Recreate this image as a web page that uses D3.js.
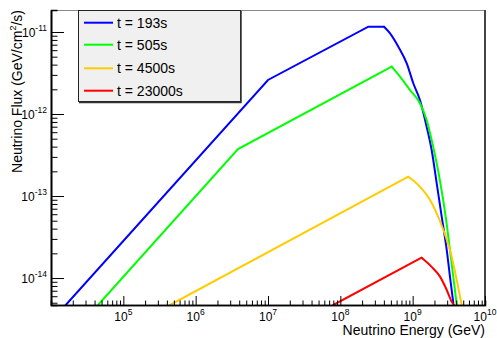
<!DOCTYPE html>
<html><head><meta charset="utf-8">
<script src="https://cdn.jsdelivr.net/npm/d3@7"></script>
<style>
html,body{margin:0;padding:0;background:#fff;}
svg{display:block;font-family:"Liberation Sans",Arial,Helvetica,sans-serif;}
</style></head><body>
<svg id="chart" width="497" height="338"></svg>
<script>
// Neutrino flux (E^2 dN/dE) versus neutrino energy at four times after the burst
const seriesNames = ["t = 193s", "t = 505s", "t = 4500s", "t = 23000s"];

const energy193 = [1.6e4, 1.0e7, 2.44e8, 4.02e8, 4.87e8, 6.34e8, 8.28e8, 1.02e9, 1.26e9, 1.56e9, 1.83e9, 2.15e9, 2.52e9, 2.96e9, 3.36e9, 3.65e9];
const flux193   = [4.69e-15, 2.6e-12, 1.16e-11, 1.16e-11, 9.64e-12, 6.62e-12, 4.15e-12, 2.37e-12, 1.48e-12, 7.0e-13, 3.64e-13, 1.43e-13, 5.6e-14, 2.19e-14, 8.7e-15, 4.95e-15];

const energy505 = [4.47e4, 3.85e6, 5.13e8, 6.68e8, 9.19e8, 1.26e9, 1.56e9, 1.83e9, 2.15e9, 2.39e9, 2.86e9, 3.28e9, 3.73e9, 4.07e9];
const flux505   = [4.69e-15, 3.74e-13, 3.78e-12, 2.85e-12, 1.96e-12, 1.35e-12, 8.45e-13, 4.82e-13, 2.5e-13, 1.52e-13, 5.6e-14, 2.19e-14, 8.7e-15, 4.69e-15];

const energy4500 = [4.42e5, 8.71e8, 1.26e9, 1.74e9, 2.15e9, 2.66e9, 3.28e9, 4.06e9, 4.76e9];
const flux4500   = [4.69e-15, 1.72e-13, 1.30e-13, 8.93e-14, 6.15e-14, 3.85e-14, 2.19e-14, 9.5e-15, 4.69e-15];

const energy23000 = [8.0e7, 1.33e9, 1.83e9, 2.39e9, 2.96e9, 3.47e9, 3.73e9];
const flux23000   = [4.69e-15, 1.77e-14, 1.37e-14, 1.04e-14, 7.14e-15, 5.14e-15, 4.69e-15];

// index of the point where the power law turns over into the cutoff
const peakIndex = [3, 2, 1, 1];

const xMajorExponents = [5, 6, 7, 8, 9, 10];
const yMajorExponents = [-14, -13, -12, -11];

const xTitle = "Neutrino Energy (GeV)";

// ---- styling ----
const lineColors = ["#0000ff", "#00ff00", "#ffcc00", "#ff0000"];
const frame = {left: 51, right: 485, top: 10, bottom: 305};

const svg = d3.select("#chart");

const x = d3.scaleLog().domain([1e4, 1e10]).range([frame.left, frame.right]);
const y = d3.scaleLog().domain([4.69e-15, 1.854e-11]).range([frame.bottom, frame.top]);

const series = [
  {name: seriesNames[0], e: energy193, f: flux193},
  {name: seriesNames[1], e: energy505, f: flux505},
  {name: seriesNames[2], e: energy4500, f: flux4500},
  {name: seriesNames[3], e: energy23000, f: flux23000}
].map((s, i) => ({...s, pts: s.e.map((v, k) => [v, s.f[k]]), peak: peakIndex[i], color: lineColors[i]}));

svg.append("defs").append("clipPath").attr("id", "plotClip")
  .append("rect")
  .attr("x", frame.left).attr("y", frame.top)
  .attr("width", frame.right - frame.left).attr("height", frame.bottom - frame.top);

// frame edges (top and right)
svg.append("line").attr("x1", frame.left).attr("x2", frame.right)
  .attr("y1", frame.top + 0.5).attr("y2", frame.top + 0.5)
  .attr("stroke", "#888").attr("stroke-width", 1);
svg.append("line").attr("x1", frame.right).attr("x2", frame.right)
  .attr("y1", frame.top).attr("y2", frame.bottom)
  .attr("stroke", "#444").attr("stroke-width", 2);

// curves: straight power-law segments, smooth exponential cutoff
const straight = d3.line().x(d => x(d[0])).y(d => y(d[1]));
const smooth = d3.line().x(d => x(d[0])).y(d => y(d[1])).curve(d3.curveMonotoneX);
const plot = svg.append("g").attr("clip-path", "url(#plotClip)");
series.forEach(s => {
  plot.append("path")
    .attr("d", straight(s.pts.slice(0, s.peak + 1)))
    .attr("fill", "none").attr("stroke", s.color).attr("stroke-width", 2)
    .attr("stroke-linejoin", "miter").attr("stroke-linecap", "round");
  plot.append("path")
    .attr("d", smooth(s.pts.slice(s.peak)))
    .attr("fill", "none").attr("stroke", s.color).attr("stroke-width", 2)
    .attr("stroke-linecap", "round");
});

// axes: major and minor ticks drawn inward
const isPow10 = v => Math.abs(Math.log10(v) - Math.round(Math.log10(v))) < 1e-9;
const xMinor = x.ticks(30).filter(v => !isPow10(v));
const yMinor = y.ticks(30).filter(v => !isPow10(v));
const xMajor = [1e4].concat(xMajorExponents.map(e => Math.pow(10, e)));
const yMajor = yMajorExponents.map(e => Math.pow(10, e));

const xAxisMinor = d3.axisBottom(x).tickValues(xMinor).tickSize(-4.5).tickFormat("");
const xAxisMajor = d3.axisBottom(x).tickValues(xMajor).tickSize(-9).tickFormat("").tickSizeOuter(0);
const yAxisMinor = d3.axisLeft(y).tickValues(yMinor).tickSize(-6.5).tickFormat("");
const yAxisMajor = d3.axisLeft(y).tickValues(yMajor).tickSize(-13).tickFormat("").tickSizeOuter(0);

function styleAxis(g) {
  g.selectAll("path").attr("stroke", "#000").attr("stroke-width", 1.6);
  g.selectAll("line").attr("stroke", "#000").attr("stroke-width", 1);
}

svg.append("g").attr("transform", `translate(0,${frame.bottom})`).call(xAxisMinor).call(styleAxis);
svg.append("g").attr("transform", `translate(0,${frame.bottom})`).call(xAxisMajor).call(styleAxis);
svg.append("g").attr("transform", `translate(${frame.left},0)`).call(yAxisMinor).call(styleAxis);
svg.append("g").attr("transform", `translate(${frame.left},0)`).call(yAxisMajor).call(styleAxis);

// x tick labels 10^n
const xl = svg.append("g").selectAll("text").data(xMajorExponents).join("text")
  .attr("x", e => x(Math.pow(10, e)))
  .attr("y", 320.5)
  .attr("text-anchor", "middle")
  .attr("font-size", 12)
  .attr("fill", "#000");
xl.append("tspan").text("10");
xl.append("tspan").attr("dy", -6).attr("font-size", 8.5).text(e => e);

// y tick labels 10^n
const yl = svg.append("g").selectAll("text").data(yMajorExponents).join("text")
  .attr("x", 47)
  .attr("y", e => y(Math.pow(10, e)) + 5)
  .attr("text-anchor", "end")
  .attr("font-size", 12)
  .attr("fill", "#000");
yl.append("tspan").text("10");
yl.append("tspan").attr("dy", -6).attr("font-size", 8.5).text(e => e);

// axis titles
svg.append("text")
  .attr("x", frame.right).attr("y", 335)
  .attr("text-anchor", "end").attr("font-size", 14).attr("fill", "#000")
  .text(xTitle);

const yt = svg.append("text")
  .attr("transform", `translate(22,${frame.top}) rotate(-90)`)
  .attr("text-anchor", "end").attr("font-size", 14).attr("fill", "#000");
yt.append("tspan").text("Neutrino Flux (GeV/cm");
yt.append("tspan").attr("font-size", 9).attr("dy", -6).text("2");
yt.append("tspan").attr("dy", 6).text("/s)");

// legend box with a slight shadow edge
const legend = svg.append("g");
legend.append("rect")
  .attr("x", 78.5).attr("y", 10.5).attr("width", 162).attr("height", 91)
  .attr("fill", "#f0f0f0").attr("stroke", "#222").attr("stroke-width", 1);
legend.append("path")
  .attr("d", "M241,11V102.5H79")
  .attr("fill", "none").attr("stroke", "#333").attr("stroke-width", 1.5);
const rowY = [22.7, 44.7, 68.3, 90.7];
const rows = legend.selectAll("g.row").data(series).join("g").attr("class", "row");
rows.append("line")
  .attr("x1", 84).attr("x2", 113)
  .attr("y1", (d, i) => rowY[i]).attr("y2", (d, i) => rowY[i])
  .attr("stroke", d => d.color).attr("stroke-width", 2);
rows.append("text")
  .attr("x", 117).attr("y", (d, i) => rowY[i] + 5)
  .attr("font-size", 14).attr("fill", "#000")
  .text(d => d.name);
</script>
</body></html>
